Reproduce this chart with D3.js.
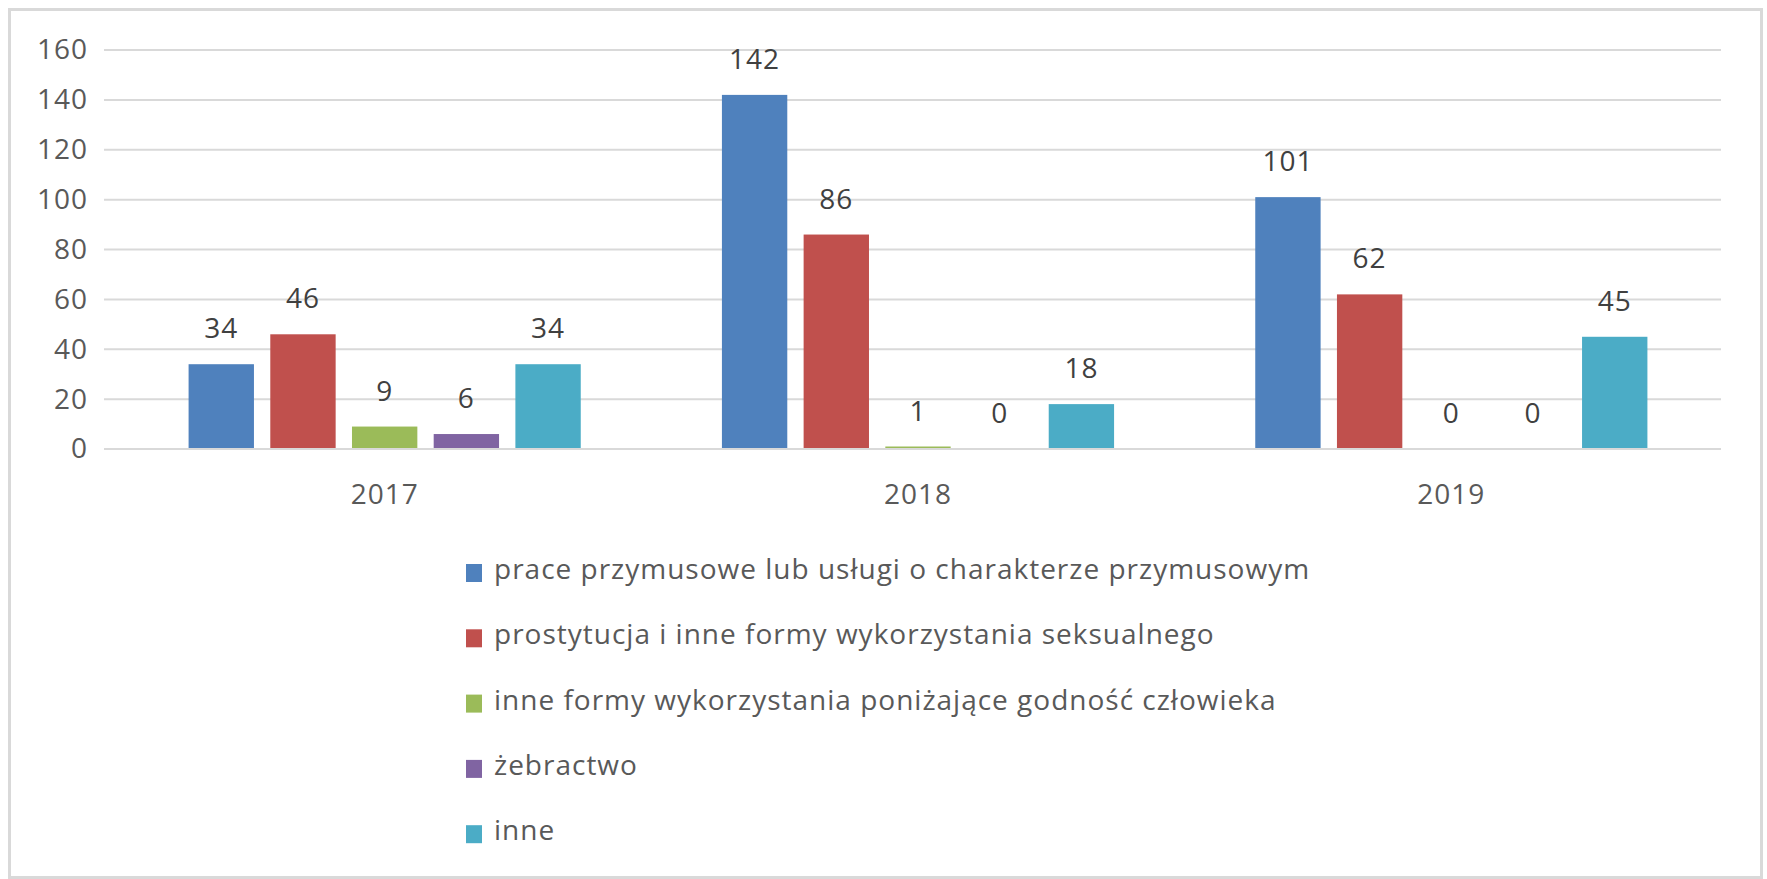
<!DOCTYPE html>
<html>
<head>
<meta charset="utf-8">
<script src="https://cdnjs.cloudflare.com/ajax/libs/d3/7.8.5/d3.min.js"></script>
<style>
body{margin:0;background:#fff;}
text{font-family:"Open Sans",sans-serif;}
</style>
</head>
<body>
<div id="chart"></div>
<script>
var years = ["2017", "2018", "2019"];
var seriesNames = [
	"prace przymusowe lub usługi o charakterze przymusowym",
	"prostytucja i inne formy wykorzystania seksualnego",
	"inne formy wykorzystania poniżające godność człowieka",
	"żebractwo",
	"inne"
];
var seriesColors = ["#4f81bd", "#c0504d", "#9bbb59", "#8064a2", "#4bacc6"];
var pracePrzymusowe = [34, 142, 101];
var prostytucja = [46, 86, 62];
var inneFormy = [9, 1, 0];
var zebractwo = [6, 0, 0];
var inne = [34, 18, 45];
var yTicks = [0, 20, 40, 60, 80, 100, 120, 140, 160];

var allSeries = [pracePrzymusowe, prostytucja, inneFormy, zebractwo, inne];

var width = 1767, height = 879;
var svg = d3.select("#chart").append("svg")
	.attr("width", width)
	.attr("height", height);

// frame
svg.append("rect")
	.attr("x", 9.5).attr("y", 9.5)
	.attr("width", 1752).attr("height", 868)
	.attr("fill", "#fff")
	.attr("stroke", "#d9d9d9")
	.attr("stroke-width", 3);

var yscale = d3.scaleLinear().domain([0, 160]).range([449, 50]);
var x0 = d3.scaleBand().domain(years).range([118, 1718]).padding(0);
var x1 = d3.scaleBand().domain(d3.range(seriesNames.length))
	.range([0, x0.bandwidth()])
	.paddingInner(0.2).paddingOuter(0.864);

// gridlines
svg.append("g").selectAll("line")
	.data(yTicks)
	.enter().append("line")
	.attr("x1", 104).attr("x2", 1721)
	.attr("y1", function(d) { return yscale(d); })
	.attr("y2", function(d) { return yscale(d); })
	.attr("stroke", "#d9d9d9")
	.attr("stroke-width", 2);

// y axis labels
var y_axis = d3.axisLeft(yscale).tickValues(yTicks).tickSize(0).tickPadding(0);
var yg = svg.append("g")
	.attr("transform", "translate(88,0)")
	.call(y_axis);
yg.select(".domain").remove();
yg.selectAll("text")
	.attr("font-family", "Open Sans")
	.attr("font-size", 28)
	.attr("letter-spacing", 1)
	.attr("fill", "#595959");

// x axis labels
var x_axis = d3.axisBottom(x0).tickSize(0).tickPadding(0);
var xg = svg.append("g")
	.attr("transform", "translate(0,484)")
	.call(x_axis);
xg.select(".domain").remove();
xg.selectAll("text")
	.attr("font-family", "Open Sans")
	.attr("font-size", 28)
	.attr("letter-spacing", 1)
	.attr("fill", "#595959");

// bars
var rows = [];
years.forEach(function(y, i) {
	allSeries.forEach(function(s, j) {
		rows.push({year: y, series: j, value: s[i]});
	});
});

svg.append("g").selectAll("rect")
	.data(rows)
	.enter().append("rect")
	.attr("x", function(d) { return x0(d.year) + x1(d.series); })
	.attr("y", function(d) { return yscale(d.value); })
	.attr("width", x1.bandwidth())
	.attr("height", function(d) { return yscale(0) - yscale(d.value) - 1; })
	.attr("fill", function(d) { return seriesColors[d.series]; });

svg.append("g").selectAll("text")
	.data(rows)
	.enter().append("text")
	.attr("x", function(d) { return x0(d.year) + x1(d.series) + x1.bandwidth() / 2; })
	.attr("y", function(d) { return yscale(d.value) - 26; })
	.attr("text-anchor", "middle")
	.attr("font-size", 28)
	.attr("letter-spacing", 1)
	.attr("fill", "#404040")
	.text(function(d) { return d.value; });

// legend
var legend = svg.append("g").selectAll("g")
	.data(seriesNames)
	.enter().append("g")
	.attr("transform", function(d, i) { return "translate(466," + (573 + i * 65.3) + ")"; });
legend.append("rect")
	.attr("x", 0).attr("y", -9)
	.attr("width", 16).attr("height", 18)
	.attr("fill", function(d, i) { return seriesColors[i]; });
legend.append("text")
	.attr("x", 28).attr("y", 6)
	.attr("font-size", 28)
	.attr("letter-spacing", 1)
	.attr("fill", "#595959")
	.text(function(d) { return d; });
</script>
</body>
</html>
